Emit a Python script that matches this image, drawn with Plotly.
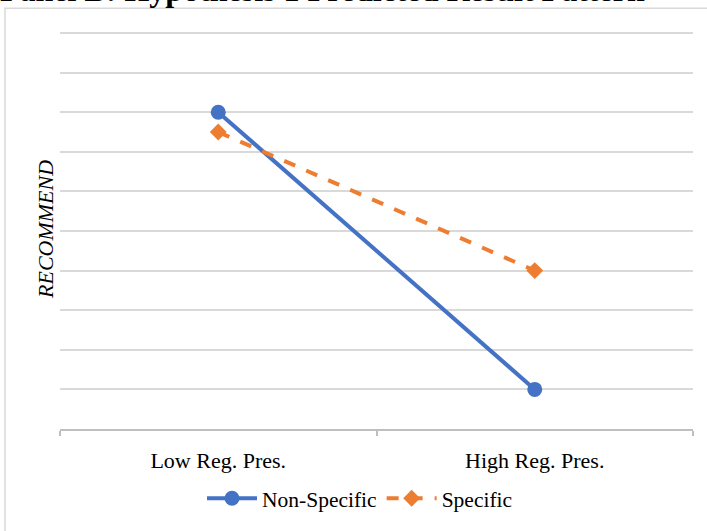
import plotly.graph_objects as go

categories = ["Low Reg. Pres.", "High Reg. Pres."]
non_specific = [8.0, 1.0]
specific = [7.5, 4.0]
series_names = ["Non-Specific", "Specific"]
title_text = "Panel B: Hypothesis 1 Predicted Result Pattern"
y_title = "RECOMMEND"

W, H = 707, 531
YMAX = 10.05
L, R, B = 60, 14, 98
T = 31
pw, ph = W - L - R, H - T - B

def px_x(px):
    return (px - L) / pw

def px_y(py):
    return (H - B - py) / ph

fig = go.Figure()
fig.add_trace(go.Scatter(
    x=categories, y=non_specific, name=series_names[0], mode="lines+markers",
    line=dict(color="#4472C4", width=4),
    marker=dict(symbol="circle", size=15, color="#4472C4"),
))
fig.add_trace(go.Scatter(
    x=categories, y=specific, name=series_names[1], mode="lines+markers",
    line=dict(color="#ED7D31", width=4, dash="dash"),
    marker=dict(symbol="diamond", size=13, color="#ED7D31"),
))

font_serif = "Liberation Serif, Times New Roman, serif"

fig.update_layout(
    width=W, height=H,
    margin=dict(l=L, r=R, t=T, b=B),
    paper_bgcolor="white", plot_bgcolor="white",
    font=dict(family=font_serif, size=22, color="#000000"),
    showlegend=True,
    legend=dict(orientation="h", x=px_x(360), xanchor="center",
                y=px_y(503), yanchor="middle",
                font=dict(family=font_serif, size=21.5, color="#000000"),
                itemwidth=50, tracegroupgap=0),
    xaxis=dict(type="category", range=[-0.5, 1.5], showgrid=False,
               showline=True, linecolor="#bfbfbf", linewidth=1.5,
               ticks="outside", tickson="boundaries", ticklen=5,
               tickcolor="#bfbfbf", tickwidth=1.5,
               ticklabelstandoff=11,
               tickfont=dict(family=font_serif, size=22, color="#000000"),
               zeroline=False, fixedrange=True),
    yaxis=dict(range=[0, YMAX], dtick=1, showgrid=True, gridcolor="#d9d9d9",
               gridwidth=1.5, showticklabels=False, ticks="", zeroline=False,
               showline=False, fixedrange=True),
    shapes=[dict(type="rect", xref="paper", yref="paper",
                 x0=px_x(5), x1=px_x(760), y0=px_y(600), y1=px_y(8),
                 line=dict(color="#d9d9d9", width=1.5), fillcolor="rgba(0,0,0,0)",
                 layer="below")],
    annotations=[
        dict(text="<i>" + y_title + "</i>", xref="paper", yref="paper", x=px_x(45), y=px_y(232),
             xanchor="center", yanchor="middle", textangle=-90, showarrow=False,
             font=dict(family=font_serif, size=22, color="#000000"),
             ),
        dict(text="<b>" + title_text + "</b>", xref="paper", yref="paper",
             x=px_x(-2), y=px_y(10), xanchor="left", yanchor="bottom",
             showarrow=False,
             font=dict(family=font_serif, size=32, color="#000000")),
    ],
)

fig.write_html("out.html")
